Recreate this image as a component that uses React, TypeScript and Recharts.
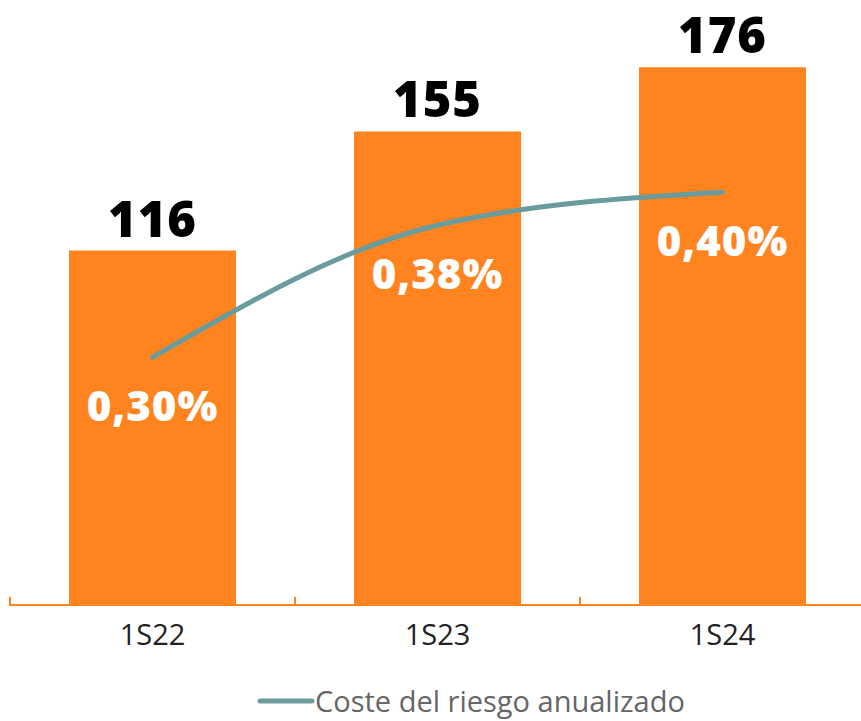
import { Bar, ComposedChart, LabelList, Legend, Line, XAxis, YAxis } from "recharts";

const periods = ["1S22", "1S23", "1S24"];
const dotacion = [116, 155, 176];
const costeRiesgo = [0.3, 0.38, 0.4];

const ORANGE = "#FF841F";
const TEAL = "#6A9B9D";
const FONT = "'Open Sans', 'DejaVu Sans', sans-serif";

const CHART_W = 865;
const MARGIN_LEFT = 10;
const BAND = (CHART_W - MARGIN_LEFT) / periods.length;

const data = periods.map((p, i) => ({ name: p, value: dotacion[i], cor: costeRiesgo[i] }));

const fmtPct = (v: number) => v.toFixed(2).replace(".", ",") + "%";

function Tick(props: any) {
  const { x, y, payload, index } = props;
  return (
    <g>
      <line x1={x - BAND / 2} x2={x - BAND / 2} y1={y - 16} y2={y - 7} stroke={ORANGE} strokeWidth={2} />
      {index === periods.length - 1 && (
        <line x1={x + BAND / 2} x2={x + BAND / 2} y1={y - 16} y2={y - 7} stroke={ORANGE} strokeWidth={2} />
      )}
      <text x={x} y={y + 32} textAnchor="middle" fontSize={29} fill="#222" fontFamily={FONT}>
        {payload.value}
      </text>
    </g>
  );
}

function PctLabel(props: any) {
  const { x, y, value } = props;
  return (
    <text
      x={x}
      y={y + 64}
      textAnchor="middle"
      fontSize={42}
      fontWeight={800}
      letterSpacing={1}
      fill="#fff"
      fontFamily={FONT}
    >
      {fmtPct(value)}
    </text>
  );
}

function LegendContent() {
  return (
    <div style={{ display: "flex", alignItems: "center", height: 56, paddingLeft: 247, paddingTop: 16, boxSizing: "border-box" }}>
      <svg width={58} height={10}>
        <line x1={3} x2={55} y1={5} y2={5} stroke={TEAL} strokeWidth={5} strokeLinecap="round" />
      </svg>
      <span style={{ fontFamily: FONT, fontSize: 29, color: "#666", lineHeight: "36px", whiteSpace: "nowrap" }}>
        Coste del riesgo anualizado
      </span>
    </div>
  );
}

export default function App() {
  return (
    <div style={{ position: "absolute", left: 0, top: 0, width: 861, height: 721, overflow: "hidden", background: "#fff" }}>
      <ComposedChart
        width={CHART_W}
        height={721}
        data={data}
        margin={{ top: 0, right: 0, left: MARGIN_LEFT, bottom: 0 }}
      >
        <XAxis
          dataKey="name"
          axisLine={{ stroke: ORANGE, strokeWidth: 2 }}
          tickLine={false}
          height={60}
          tick={<Tick />}
          interval={0}
        />
        <YAxis yAxisId="left" hide domain={[0, 198]} />
        <YAxis yAxisId="right" hide domain={[0.15, 0.5164]} orientation="right" />
        <Legend verticalAlign="bottom" height={56} content={<LegendContent />} />
        <Bar yAxisId="left" dataKey="value" fill={ORANGE} barSize={167} isAnimationActive={false}>
          <LabelList
            dataKey="value"
            position="top"
            offset={14}
            fill="#000"
            fontSize={49}
            fontWeight={800}
            letterSpacing={1}
            fontFamily={FONT}
          />
        </Bar>
        <Line
          yAxisId="right"
          type="monotone"
          dataKey="cor"
          stroke={TEAL}
          strokeWidth={5}
          strokeLinecap="round"
          dot={false}
          activeDot={false}
          isAnimationActive={false}
        >
          <LabelList dataKey="cor" content={<PctLabel />} />
        </Line>
      </ComposedChart>
    </div>
  );
}
